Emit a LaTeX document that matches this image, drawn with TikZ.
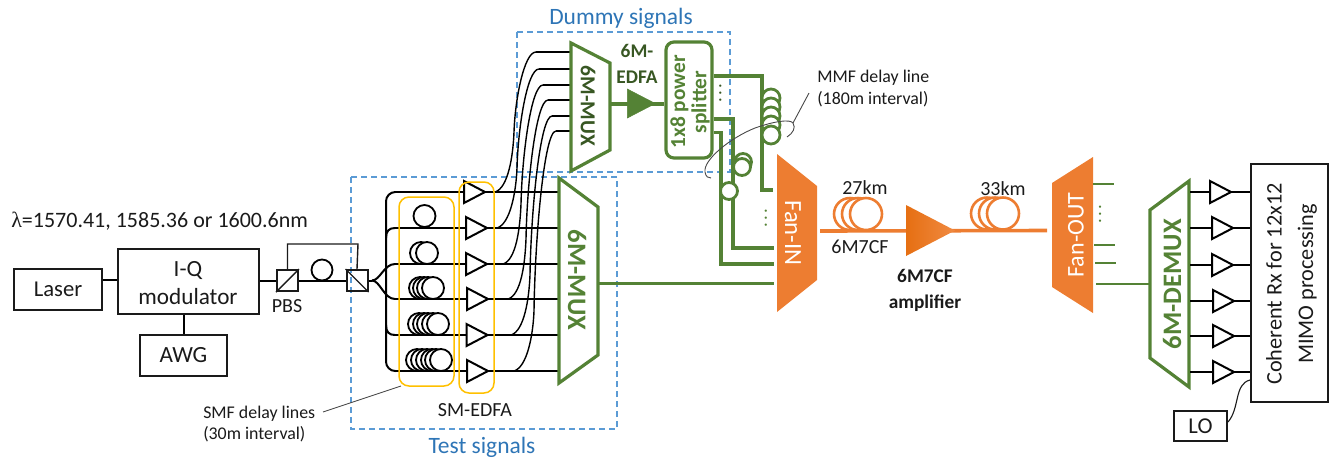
\documentclass[tikz,border=0pt]{standalone}
\usepackage{fontspec}
\setmainfont{Carlito}
\newfontfamily\lamfont{Liberation Serif}
\usetikzlibrary{shapes.geometric}
\definecolor{gr}{HTML}{548235}
\definecolor{dgr}{HTML}{385723}
\definecolor{org}{HTML}{ED7D31}
\definecolor{orgd}{HTML}{E66F12}
\definecolor{orgl}{HTML}{F08A42}
\definecolor{yel}{HTML}{FFC000}
\definecolor{blu}{HTML}{5B9BD5}
\definecolor{tblu}{HTML}{2E75B6}
\definecolor{ink}{HTML}{1A1A1A}
\def\u{0.75pt}
\def\vdots{.\hspace{1.8pt}.\hspace{1.8pt}.}
\tikzset{
  x=0.75pt,y=-0.75pt,
  txt/.style={font=\fontsize{#1}{#1}\selectfont,inner sep=0pt,text=ink},
  txt/.default=14,
  boxn/.style={draw=ink,line width=2*\u,inner sep=0pt,align=center},
  bl/.style={draw=black,line width=2*\u},
  thinbl/.style={draw=black,line width=1.4*\u},
  grl/.style={draw=gr,line width=3.2*\u},
  grt/.style={draw=gr,line width=2*\u},
  orl/.style={draw=org,line width=3.6*\u},
  dashbox/.style={draw=blu,line width=1.3*\u,dash pattern=on 4.5pt off 3pt},
  ybox/.style={draw=yel,line width=1.5*\u,rounded corners=7.5pt},
  coil/.style={draw=black,line width=1.8*\u,fill=white},
  gcoil/.style={draw=gr,line width=2.8*\u,fill=white},
  ocoil/.style={draw=org,line width=2.6*\u,fill=white},
  ampb/.style={draw=black,line width=2*\u,fill=white,isosceles triangle,isosceles triangle stretches,inner sep=0pt,minimum height=21*\u,minimum width=22*\u,anchor=lower side},
  note/.style={draw=ink!80,line width=0.9*\u},
}
\begin{document}
\begin{tikzpicture}
\useasboundingbox (0,0) rectangle (1334,462);
% --- dashed regions
\draw[dashbox] (351,177) rectangle (617,429);
\draw[dashbox] (517,32) rectangle (730,172);
\node[txt=17.6,text=tblu] (dummylab) at (621,18) {Dummy signals};
\node[txt=17.6,text=tblu] (testlab) at (482,447) {Test signals};
% --- left boxes
\node[boxn,minimum width=88*\u,minimum height=41*\u,txt=17] (laser) at (58,289.5) {Laser};
\node[boxn,minimum width=141*\u,minimum height=65*\u] (iq) at (188.5,281.5) {};
\node[txt=17.4,align=center] (iqlab) at (188,283) {I-Q\\[3pt]modulator};
\node[boxn,minimum width=87*\u,minimum height=41*\u,txt=17.4] (awg) at (183.5,355.5) {AWG};
\node[boxn,minimum width=21*\u,minimum height=21*\u] (pbsa) at (287.5,280.5) {};
\node[boxn,minimum width=21*\u,minimum height=21*\u] (pbsb) at (357,280.5) {};
\draw[line width=1.4*\u,draw=ink] (pbsa.south west) -- (pbsa.north east);
\draw[line width=1.4*\u,draw=ink] (pbsb.north west) -- (pbsb.south east);
\draw[bl] (laser.east |- 0,280) -- (iq.west |- 0,280);
\draw[bl] (iq.south -| awg.north) -- (awg.north);
\draw[bl] (iq.east |- 0,280.5) -- (pbsa.west);
\draw[bl] (pbsa.east) -- (pbsb.west);
\draw[line width=1.4*\u,draw=ink] (pbsa.north) |- (358,244) -- (pbsb.north);
\node[coil,circle,minimum size=21*\u,inner sep=0pt] (pcoil) at (322,270) {};
\node[txt=15] (pbslab) at (287,306) {PBS};
\node[txt=16.5,anchor=west] (lam) at (11,221) {{\lamfont λ}=1570.41, 1585.36 or 1600.6nm};
% --- splitter tree and arms
\foreach \k/\y/\sx/\ex/\ey in {
  1/192/495/536/52,
  2/228/497/539/69,
  3/264/503/543/85,
  4/299/508/548/100,
  5/335/511/552/116,
  6/371/514/556/131}{
  \pgfmathsetmacro\mx{\ex-20}
  \pgfmathsetmacro\py{\y-60}
  \pgfmathsetmacro\cy{\py-0.4*(\py-\ey)}
  \coordinate (armL\k) at (395,\y);
  \coordinate (muxI\k) at (559,\y);
  \coordinate (dmS\k) at (\sx,\y);
  \coordinate (dmP\k) at (\mx-2,\py);
  \coordinate (dmK\k) at (\ex,\ey);
  \coordinate (dmE\k) at (571,\ey);
  \draw[thinbl] (dmS\k) .. controls (\sx+13,\y-4) and (\mx-3,\y-35) .. (dmP\k)
     .. controls (\mx-1,\cy) and (\ex-12,\ey) .. (dmK\k);
  \draw[bl] (dmK\k) -- (dmE\k);
  \draw[bl] (armL\k) -- (muxI\k);
}
\coordinate (fork) at (372,280.5);
\draw[bl] (pbsb.east) -- (fork);
\draw[bl] (fork) .. controls (380,280.5) and (384,264) .. (armL3);
\draw[bl] (fork) .. controls (380,280.5) and (384,299) .. (armL4);
\draw[bl,rounded corners=7pt] (armL1) -- (386,192) -- (386,371) -- (armL6);
\draw[bl] (386,238) .. controls (386,231) and (389,228) .. (armL2);
\draw[bl] (386,325) .. controls (386,332) and (389,335) .. (armL5);
% --- SMF delay coils
\node[coil,circle,minimum size=22*\u,inner sep=0pt] (c11) at (424.5,216) {};
\foreach \x in {421,427}{\draw[coil] (\x,253) circle[radius=11];}
\foreach \x in {420,424,428,433}{\draw[coil] (\x,288) circle[radius=11];}
\foreach \x in {419,424,428,433,438}{\draw[coil] (\x,324) circle[radius=11];}
\foreach \x in {417,422,427,432,436,441}{\draw[coil] (\x,360) circle[radius=11];}
% --- amps
\foreach \k/\y/\xc in {1/192/463,2/228/465,3/264/465,4/299/466,5/335/465.5,6/371/466}{
  \node[ampb] (ampa\k) at (\xc,\y) {};
}
% --- yellow frames
\draw[ybox] (399,197) rectangle (454,386);
\draw[ybox] (459,182) rectangle (494,393);
\node[txt=15] (smedfa) at (475,410) {SM-EDFA};
\node[txt=13.4,anchor=west,align=left] (smf) at (203,424) {SMF delay lines\\[2.5pt](30m interval)};
\coordinate (smfA) at (323,412);
\coordinate (smfB) at (401,386);
\draw[note] (smfA) -- (smfB);
% --- big MUX
\draw[grl,fill=white] (559,178) coordinate (bm1) -- (598,207) -- (598,355) coordinate (bm3) -- (559,383) -- cycle;
\node[font=\fontsize{20}{20}\selectfont\bfseries,text=gr,rotate=-90,inner sep=0pt] (bmlab) at (577,280) {6M-MUX};
% --- top MUX
\draw[grl,fill=white] (571,43) -- (610,63) -- (610,150) -- (571,171) -- cycle;
\node[font=\fontsize{16}{16}\selectfont\bfseries,text=dgr,rotate=-90,inner sep=0pt] (tmlab) at (588,106) {6M-MUX};
\node[font=\fontsize{14.5}{14.5}\selectfont\bfseries,text=dgr,align=center,inner sep=0pt] (edfalab) at (637,64) {6M-\\[5pt]EDFA};
\coordinate (tmO) at (610,104);
\node[draw=gr,fill=gr,isosceles triangle,isosceles triangle stretches,inner sep=0pt,minimum height=28*\u,minimum width=29*\u,anchor=lower side] (gamp) at (627,103.5) {};
% --- splitter
\node[draw=gr,line width=3.2*\u,rounded corners=6pt,minimum width=46*\u,minimum height=116*\u,inner sep=0pt] (split) at (689,100) {};
\node[font=\fontsize{16}{16}\selectfont\bfseries,text=gr,rotate=90,align=center,inner sep=0pt] (splitlab) at (690,102) {1x8 power\\[0pt]splitter};
\draw[grl] (tmO) -- (split.west |- tmO);
\node[font=\fontsize{14}{14}\selectfont,text=dgr,rotate=90,inner sep=0pt] (d1) at (720.5,93) {\vdots};
% --- fan-in
\fill[org] (777,154) -- (817,186) -- (817,280) -- (777,312) -- cycle;
\node[font=\fontsize{18.5}{18.5}\selectfont,text=white,rotate=-90,inner sep=0pt] (fanin) at (793,233) {Fan-IN};
\coordinate (fiA) at (773,190);
\coordinate (fiB) at (774,248);
\coordinate (fiC) at (774,264);
\coordinate (fiD) at (774,283.5);
\draw[grl] (split.east |- 0,76) -| (762,190) -- (fiA);
\draw[grl] (split.east |- 0,119) -| (733,248) -- (fiB);
\draw[grl] (split.east |- 0,132.5) -| (721,264) -- (fiC);
\draw[grl] (bm3 |- fiD) -- (fiD);
% green coils
\foreach \y in {98,107,116,125,135}{\draw[gcoil] (771,\y) circle[radius=9];}
\draw[gcoil] (743,162) circle[radius=8.5];
\draw[gcoil] (742,167) circle[radius=8.5];
\draw[gcoil] (729,191) circle[radius=8.5];
\node[font=\fontsize{14}{14}\selectfont,text=gr,rotate=90,inner sep=0pt] (d2) at (766,218) {\vdots};
% MMF annotation
\node[txt=13.4,anchor=west,align=left] (mmf) at (817,88.5) {MMF delay line\\[2.5pt](180m interval)};
\coordinate (mmA) at (809,93);
\coordinate (mmB) at (793,123);
\coordinate (mmC) at (787,137);
\coordinate (mmD) at (711,178);
\draw[note] (mmA) -- (mmB) .. controls (796,128) and (793,133) .. (mmC);
\draw[note] (mmB) .. controls (790,119) and (775,121) .. (755,128) .. controls (730,138) and (703,160) .. (705,172) .. controls (706,177) and (708,178) .. (mmD);
% --- span
\coordinate (spA) at (820,231);
\coordinate (spB) at (1047,230.5);
\foreach \x in {850,858,866}{\draw[ocoil] (\x,214) circle[radius=16];}
\foreach \x in {987,995,1003}{\draw[ocoil] (\x,213.5) circle[radius=16];}
\draw[orl] (spA) -- (spB);
\shade[left color=orgd,right color=orgl] (906,205) -- (955,230.5) -- (906,256) -- cycle;
\node[txt=15] (km27) at (865,188) {27km};
\node[txt=15] (km33) at (1003,189) {33km};
\node[txt=15] (cf) at (860,247) {6M7CF};
\node[font=\fontsize{14.5}{14.5}\selectfont\bfseries,text=ink,align=center,inner sep=0pt] (oalab) at (925,290.5) {6M7CF\\[5pt]amplifier};
% --- fan-out
\fill[org] (1093,157) -- (1052,183) -- (1052,287) -- (1093,313) -- cycle;
\node[font=\fontsize{18}{18}\selectfont,text=white,rotate=90,inner sep=0pt] (fanout) at (1076,235) {Fan-OUT};
\coordinate (foA) at (1093,184); \coordinate (foAe) at (1114,184);
\coordinate (foB) at (1094,245); \coordinate (foBe) at (1115,245);
\coordinate (foC) at (1095,263); \coordinate (foCe) at (1116,263);
\coordinate (foD) at (1096,283.5);
\draw[grt] (foA) -- (foAe);
\draw[grt] (foB) -- (foBe);
\draw[grt] (foC) -- (foCe);
\node[font=\fontsize{14}{14}\selectfont,text=gr,rotate=90,inner sep=0pt] (d3) at (1100,214) {\vdots};
% --- demux
\draw[grl] (1189,181) -- (1150,210) -- (1150,358) -- (1189,387) -- cycle;
\draw[grt] (foD) -- (1150,283.5);
\node[font=\fontsize{20}{20}\selectfont\bfseries,text=gr,rotate=90,inner sep=0pt] (dmlab) at (1172,284) {6M-DEMUX};
% --- rx
\node[boxn,minimum width=77*\u,minimum height=238*\u] (rx) at (1289.5,283) {};
\node[txt=16.7,rotate=90,align=center] (rxlab) at (1291.5,284) {Coherent Rx for 12x12\\[7pt]MIMO processing};
\foreach \k/\y/\xc in {1/192/1209,2/228/1211,3/265/1211,4/301/1212,5/336/1212,6/372/1212}{
  \draw[bl] (1190,\y) -- (rx.west |- 0,\y);
  \node[ampb] (ampr\k) at (\xc,\y) {};
}
\node[boxn,minimum width=53*\u,minimum height=30*\u,txt=17] (lo) at (1200.5,426) {LO};
\coordinate (rxLO) at (1250,380);
\draw[line width=1.1*\u,draw=ink] (lo.east |- 0,422) .. controls (1240,408) and (1234,384) .. (rxLO);
\end{tikzpicture}
\end{document}
